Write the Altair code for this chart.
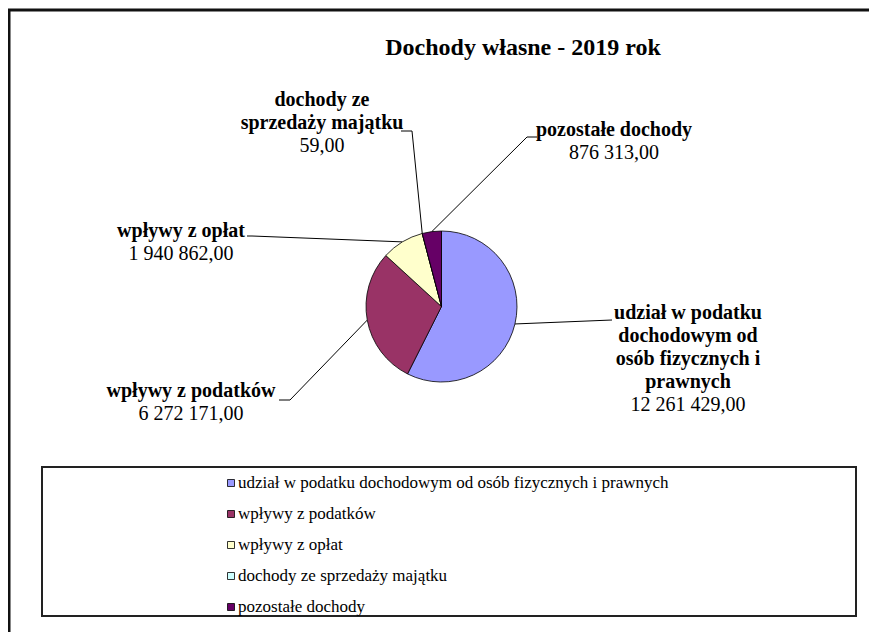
import altair as alt
import pandas as pd
import numpy as np

# ---------------- data ----------------
title_text = "Dochody własne - 2019 rok"
categories = [
    "udział w podatku dochodowym od osób fizycznych i prawnych",
    "wpływy z podatków",
    "wpływy z opłat",
    "dochody ze sprzedaży majątku",
    "pozostałe dochody",
]
values = [12261429.00, 6272171.00, 1940862.00, 59.00, 876313.00]
value_labels = ["12 261 429,00", "6 272 171,00", "1 940 862,00", "59,00", "876 313,00"]
# label text wrapped as in the chart
label_texts = [
    "udział w podatku\ndochodowym od\nosób fizycznych i\nprawnych",
    "wpływy z podatków",
    "wpływy z opłat",
    "dochody ze\nsprzedaży majątku",
    "pozostałe dochody",
]
colors = ["#9999FF", "#993366", "#FFFFCC", "#CCFFFF", "#660066"]

# ---------------- layout (page pixel units) ----------------
CX, CY, R = 441.5, 306.5, 75.5
LH = 23
label_x = [688, 191, 181, 322, 614]
label_y = [319, 397, 237, 106, 136]
elbow_x = [612, 290, 252, 412, 527]
elbow_y = [320, 400, 236, 131, 137]
end_x = [612, 279, 247, 401, 537]
end_y = [320, 400, 236, 131, 137]
LEG_BOX = (42, 467, 856, 616)
LEG_SQ_X, LEG_TX_X = 231, 238
LEG_Y0, LEG_DY = 483, 31

FONT = "Liberation Serif"

W, H = 861, 624
xs = alt.Scale(domain=[8, 8 + W], nice=False, zero=False)
ys = alt.Scale(domain=[8, 8 + H], nice=False, zero=False, reverse=True)


def X(f):
    return alt.X(f, type="quantitative", scale=xs, axis=None)


def Y(f):
    return alt.Y(f, type="quantitative", scale=ys, axis=None)


color_scale = alt.Scale(domain=categories, range=colors)

# pie data
total = float(np.sum(values))
cum_before = np.concatenate([[0.0], np.cumsum(values)[:-1]])
mid = 2 * np.pi * (cum_before + np.array(values) / 2) / total

pie_df = pd.DataFrame({
    "cat": categories,
    "value": values,
    "idx": list(range(len(categories))),
    "cx": CX,
    "cy": CY,
})

pie = alt.Chart(pie_df).mark_arc(outerRadius=R, stroke="#000000", strokeWidth=0.8).encode(
    x=X("cx"),
    y=Y("cy"),
    theta=alt.Theta("value:Q", stack=True),
    color=alt.Color("cat:N", scale=color_scale, legend=None),
    order=alt.Order("idx:Q"),
)

# leader lines
edge_x = CX + R * np.sin(mid)
edge_y = CY - R * np.cos(mid)
lines_df = pd.DataFrame({
    "x": list(edge_x) + elbow_x,
    "y": list(edge_y) + elbow_y,
    "x2": elbow_x + end_x,
    "y2": elbow_y + end_y,
})
leaders = alt.Chart(lines_df).mark_rule(color="#000000", strokeWidth=1).encode(
    x=X("x"), y=Y("y"), x2="x2", y2="y2"
)

# labels
nlines = [t.count("\n") + 1 for t in label_texts]
lab_df = pd.DataFrame({
    "name": label_texts,
    "val": value_labels,
    "x": label_x,
    "y": label_y,
    "vy": [y + n * LH for y, n in zip(label_y, nlines)],
})
names = alt.Chart(lab_df).mark_text(
    font=FONT, fontSize=20, fontWeight="bold", align="center", baseline="alphabetic",
    lineBreak="\n", lineHeight=LH, color="#000000"
).encode(x=X("x"), y=Y("y"), text="name:N")
vals = alt.Chart(lab_df).mark_text(
    font=FONT, fontSize=20, align="center", baseline="alphabetic", color="#000000"
).encode(x=X("x"), y=Y("vy"), text="val:N")

# title
title_df = pd.DataFrame({"t": [title_text], "x": [523], "y": [55]})
title = alt.Chart(title_df).mark_text(
    font=FONT, fontSize=24, fontWeight="bold", align="center", baseline="alphabetic", color="#000000"
).encode(x=X("x"), y=Y("y"), text="t:N")

# outer frame (top and left edges visible)
frame_df = pd.DataFrame({"x": [8, 9], "y": [10, 9], "x2": [8 + W, 9], "y2": [10, 8 + H]})
frame = alt.Chart(frame_df).mark_rule(color="#111111", strokeWidth=3).encode(
    x=X("x"), y=Y("y"), x2="x2", y2="y2"
)

# legend
box_df = pd.DataFrame({"x": [LEG_BOX[0]], "y": [LEG_BOX[1]], "x2": [LEG_BOX[2]], "y2": [LEG_BOX[3]]})
box = alt.Chart(box_df).mark_rect(fill="#FFFFFF", stroke="#222222", strokeWidth=2).encode(
    x=X("x"), y=Y("y"), x2="x2", y2="y2"
)
leg_df = pd.DataFrame({
    "cat": categories,
    "sx": LEG_SQ_X,
    "tx": LEG_TX_X,
    "y": [LEG_Y0 + i * LEG_DY for i in range(len(categories))],
})
leg_sq = alt.Chart(leg_df).mark_square(size=49, stroke="#000000", strokeWidth=0.8, opacity=1).encode(
    x=X("sx"), y=Y("y"), color=alt.Color("cat:N", scale=color_scale, legend=None)
)
leg_tx = alt.Chart(leg_df).mark_text(
    font=FONT, fontSize=17, align="left", baseline="middle", color="#000000"
).encode(x=X("tx"), y=Y("y"), text="cat:N")

chart = alt.layer(frame, box, leg_sq, leg_tx, title, leaders, pie, names, vals).properties(
    width=W, height=H,
    autosize=alt.AutoSizeParams(type="none"),
    padding={"left": 0, "top": 0, "right": 0, "bottom": 0},
    background="#FFFFFF",
).configure_view(stroke=None)

chart.save("out.html", embed_options={"renderer": "svg", "actions": False})
